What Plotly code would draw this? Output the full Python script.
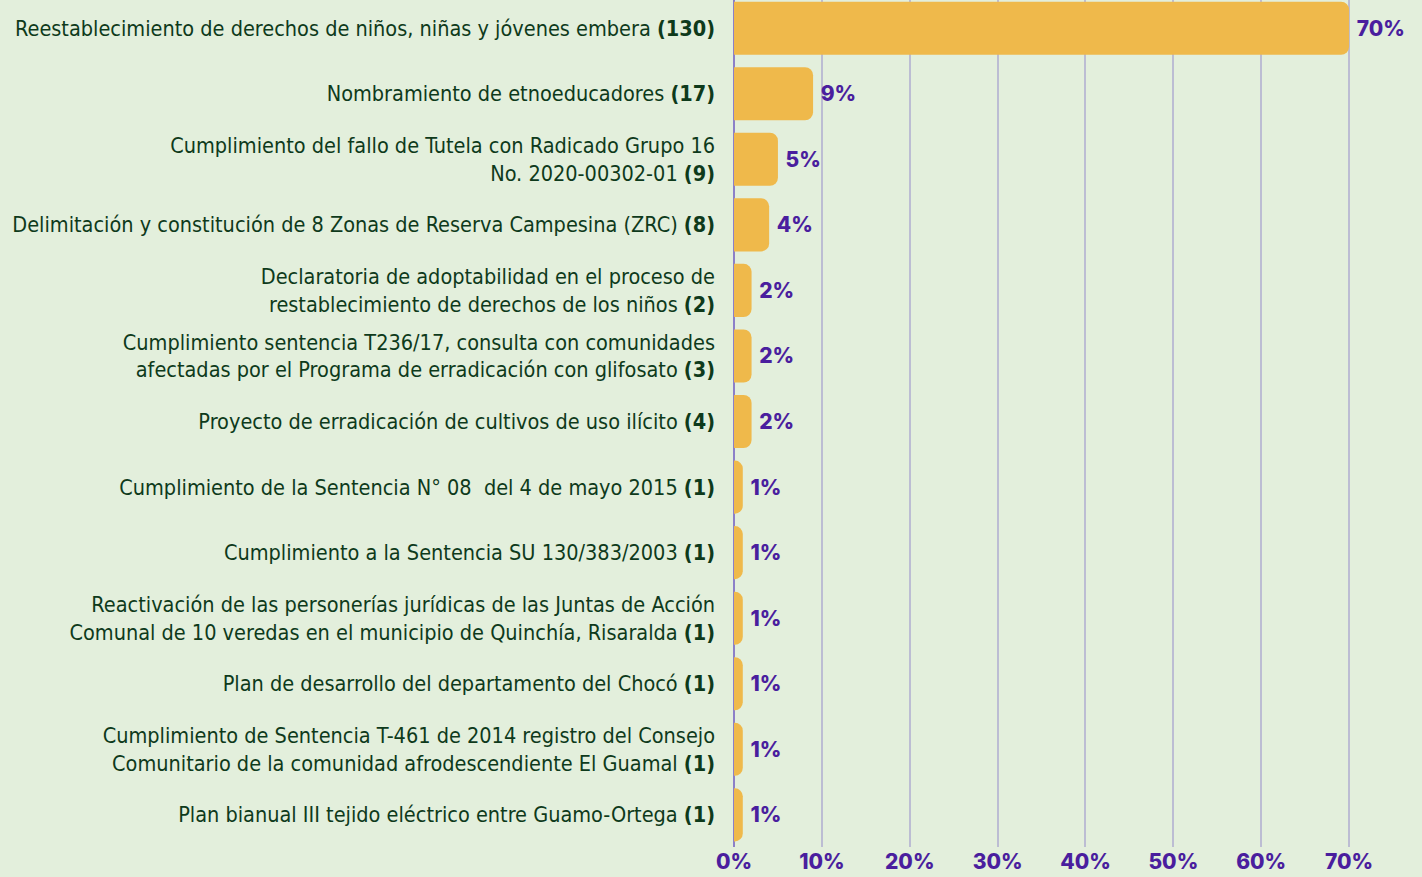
import plotly.graph_objects as go

categories = [
    "Reestablecimiento de derechos de niños, niñas y jóvenes embera <b>(130)</b>",
    "Nombramiento de etnoeducadores <b>(17)</b>",
    "Cumplimiento del fallo de Tutela con Radicado Grupo 16<br>No. 2020-00302-01 <b>(9)</b>",
    "Delimitación y constitución de 8 Zonas de Reserva Campesina (ZRC) <b>(8)</b>",
    "Declaratoria de adoptabilidad en el proceso de<br>restablecimiento de derechos de los niños <b>(2)</b>",
    "Cumplimiento sentencia T236/17, consulta con comunidades<br>afectadas por el Programa de erradicación con glifosato <b>(3)</b>",
    "Proyecto de erradicación de cultivos de uso ilícito <b>(4)</b>",
    "Cumplimiento de la Sentencia N° 08  del 4 de mayo 2015 <b>(1)</b>",
    "Cumplimiento a la Sentencia SU 130/383/2003 <b>(1)</b>",
    "Reactivación de las personerías jurídicas de las Juntas de Acción<br>Comunal de 10 veredas en el municipio de Quinchía, Risaralda <b>(1)</b>",
    "Plan de desarrollo del departamento del Chocó <b>(1)</b>",
    "Cumplimiento de Sentencia T-461 de 2014 registro del Consejo<br>Comunitario de la comunidad afrodescendiente El Guamal <b>(1)</b>",
    "Plan bianual III tejido eléctrico entre Guamo-Ortega <b>(1)</b>",
]
percentages = [70, 9, 5, 4, 2, 2, 2, 1, 1, 1, 1, 1, 1]
x_ticks = [0, 10, 20, 30, 40, 50, 60, 70]
x_tick_labels = [f"{v}%" for v in x_ticks]

BG = "#e3efdc"
BAR = "#efb94b"
PURPLE = "#4a1e9e"
LABEL = "#0e3a1b"
GRID = "#bcbdd3"

fig = go.Figure(
    go.Bar(
        x=percentages,
        y=categories,
        orientation="h",
        marker=dict(color=BAR, cornerradius=8, line=dict(width=0)),
        text=[f"\u00a0{p}%" for p in percentages],
        textposition="outside",
        cliponaxis=False,
        textfont=dict(family="Inter, Open Sans, sans-serif", size=21, color=PURPLE, weight=800),
        hoverinfo="skip",
    )
)

fig.update_layout(
    template="none",
    width=1422,
    height=877,
    paper_bgcolor=BG,
    plot_bgcolor=BG,
    margin=dict(l=734, r=0, t=0, b=30, autoexpand=False),
    bargap=0.19,
    showlegend=False,
    font=dict(family="DejaVu Sans Condensed, DejaVu Sans, sans-serif", color=LABEL),
)
fig.update_xaxes(
    range=[0, 78.3],
    tickmode="array",
    tickvals=x_ticks,
    ticktext=x_tick_labels,
    tickfont=dict(family="Inter, Open Sans, sans-serif", size=21, color=PURPLE, weight=800),
    ticks="",
    showgrid=True,
    gridcolor=GRID,
    gridwidth=1.6,
    zeroline=True,
    zerolinecolor="#8c80c8",
    zerolinewidth=1.5,
    showline=False,
    automargin=False,
    fixedrange=True,
)
fig.update_yaxes(
    type="category",
    range=[12.49, -0.43],
    tickfont=dict(size=21.5, color=LABEL),
    ticks="",
    ticklabelstandoff=18,
    showgrid=False,
    zeroline=False,
    showline=False,
    automargin=False,
    fixedrange=True,
)

fig.write_html(
    "out.html",
    config={"displayModeBar": False},
    post_script="document.body.style.margin='0';",
)
